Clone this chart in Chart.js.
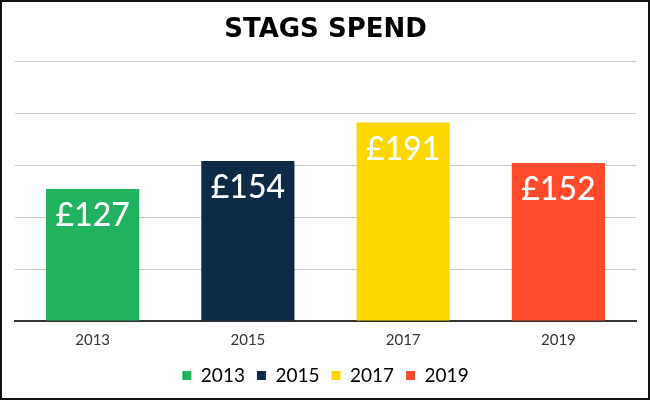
<!DOCTYPE html>
<html>
<head>
<meta charset="utf-8">
<script src="https://cdn.jsdelivr.net/npm/chart.js@4.4.0/dist/chart.umd.min.js"></script>
<style>
  html, body { margin: 0; padding: 0; background: #fff; }
  #wrap { width: 650px; height: 400px; box-sizing: border-box; border: 2px solid #111; position: relative; }
</style>
</head>
<body>
<div id="wrap"><canvas id="spendChart"></canvas></div>
<script>
// chart data
const years = ['2013', '2015', '2017', '2019'];
const spend = [127, 154, 191, 152];
const barColors = ['#21B25F', '#0F2A47', '#FFD700', '#FF4B2B'];

// white £ labels near the top of each bar
const barLabels = {
  id: 'barLabels',
  afterDatasetsDraw(chart) {
    const ctx = chart.ctx;
    const meta = chart.getDatasetMeta(0);
    ctx.save();
    ctx.fillStyle = '#fff';
    ctx.font = '500 32px Lato, sans-serif';
    ctx.textAlign = 'center';
    ctx.textBaseline = 'middle';
    meta.data.forEach((bar, i) => {
      ctx.fillText('£' + spend[i], bar.x, bar.y + 27);
    });
    ctx.restore();
  }
};

new Chart(document.getElementById('spendChart'), {
  type: 'bar',
  data: {
    labels: years,
    datasets: [{
      data: spend,
      backgroundColor: barColors,
      borderWidth: 0,
      categoryPercentage: 1,
      barPercentage: 0.6
    }]
  },
  options: {
    responsive: true,
    maintainAspectRatio: false,
    animation: false,
    layout: { padding: { left: 13, right: 12, bottom: 3 } },
    plugins: {
      title: {
        display: true,
        text: 'STAGS SPEND',
        color: '#000',
        font: { family: '"DejaVu Sans", sans-serif', size: 26, weight: 'bold' },
        padding: { top: 13, bottom: 15 }
      },
      legend: {
        position: 'bottom',
        labels: {
          color: '#333',
          font: { family: 'Lato, sans-serif', size: 19 },
          boxWidth: 9,
          boxHeight: 9,
          padding: 12,
          generateLabels(chart) {
            return years.map((y, i) => ({
              text: y,
              fillStyle: barColors[i],
              strokeStyle: barColors[i],
              lineWidth: 0,
              index: i
            }));
          }
        }
      },
      tooltip: { enabled: false }
    },
    scales: {
      x: {
        grid: { display: false },
        border: { color: '#333', width: 2 },
        ticks: { color: '#333', font: { family: 'Lato, sans-serif', size: 15 }, padding: 2 },
        afterFit(scale) { scale.height += 3; }
      },
      y: {
        min: 0,
        max: 250,
        ticks: { stepSize: 50, display: false },
        grid: { color: '#c8c8c8', drawTicks: false },
        border: { display: false }
      }
    }
  },
  plugins: [barLabels]
});
</script>
</body>
</html>
